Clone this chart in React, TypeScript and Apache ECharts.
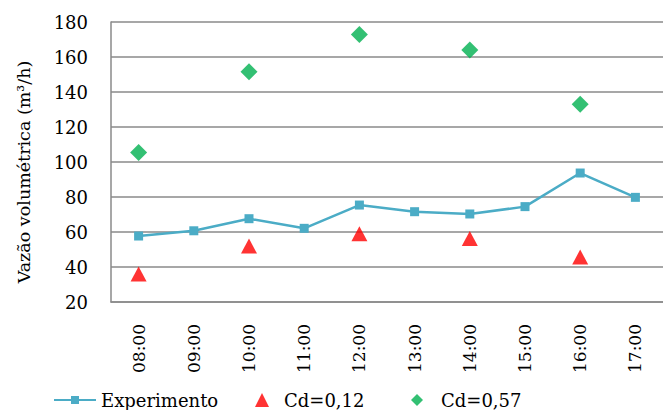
import React, { useEffect, useRef } from "react";
import * as echarts from "echarts";

const categories = ["08:00", "09:00", "10:00", "11:00", "12:00", "13:00", "14:00", "15:00", "16:00", "17:00"];
const experimento = [57.7, 60.7, 67.6, 62.1, 75.4, 71.6, 70.3, 74.5, 93.7, 79.8];
const cd012 = [36, null, 52, null, 59, null, 56.3, null, 45.7, null];
const cd057 = [105.5, null, 151.6, null, 172.8, null, 164, null, 133, null];
const yTicks = { min: 20, max: 180, interval: 20 };
const yName = "Vazão volumétrica (m³/h)";

const FONT = "DejaVu Serif";
const GRID_COLOR = "#8a8a8a";

export default function App() {
  const ref = useRef<HTMLDivElement>(null);
  useEffect(() => {
    if (!ref.current) return;
    const chart = echarts.init(ref.current, null, { renderer: "svg" });
    const legendText = { fontFamily: FONT, fontSize: 18, color: "#000" };
    chart.setOption({
      animation: false,
      textStyle: { fontFamily: FONT },
      grid: { left: 111, top: 22, right: -11, bottom: 108, containLabel: false },
      xAxis: {
        type: "category",
        data: categories,
        boundaryGap: true,
        axisLine: { show: true, lineStyle: { color: GRID_COLOR, width: 1.5 } },
        axisTick: { show: false },
        axisLabel: { rotate: 90, margin: 22, fontFamily: FONT, fontSize: 17, color: "#000" },
      },
      yAxis: {
        type: "value",
        min: yTicks.min,
        max: yTicks.max,
        interval: yTicks.interval,
        axisLine: { show: true, lineStyle: { color: GRID_COLOR, width: 1.5 } },
        axisTick: { show: false },
        splitLine: { show: true, lineStyle: { color: GRID_COLOR, width: 1.5 } },
        axisLabel: { margin: 23, fontFamily: FONT, fontSize: 18, color: "#000" },
      },
      legend: [
        {
          left: 48, top: 386, itemWidth: 42, itemHeight: 10,
          data: ["Experimento"], textStyle: legendText,
        },
        {
          left: 250, top: 386, itemWidth: 14, itemHeight: 14,
          data: ["Cd=0,12"], textStyle: { ...legendText, padding: [0, 0, 0, 10] },
        },
        {
          left: 406, top: 386, itemWidth: 12, itemHeight: 12,
          data: ["Cd=0,57"], textStyle: { ...legendText, padding: [0, 0, 0, 13] },
        },
      ],
      graphic: [
        {
          type: "text",
          x: 24,
          y: 172,
          rotation: Math.PI / 2,
          style: {
            text: yName,
            fontFamily: FONT,
            fontSize: 17.5,
            fill: "#000",
            align: "center",
            verticalAlign: "middle",
          },
        },
      ],
      series: [
        {
          name: "Experimento",
          type: "line",
          data: experimento,
          symbol: "rect",
          symbolSize: 9,
          lineStyle: { color: "#4bacc6", width: 2.5 },
          itemStyle: { color: "#4bacc6" },
          z: 3,
        },
        {
          name: "Cd=0,12",
          type: "scatter",
          data: cd012,
          symbol: "triangle",
          symbolSize: [16, 15],
          itemStyle: { color: "#ff0000" },
        },
        {
          name: "Cd=0,57",
          type: "scatter",
          data: cd057,
          symbol: "diamond",
          symbolSize: 17,
          itemStyle: { color: "#00b050" },
        },
      ],
    });
    return () => chart.dispose();
  }, []);
  return (
    <div
      ref={ref}
      style={{ position: "absolute", left: 0, top: 0, width: 663, height: 410 }}
    />
  );
}
